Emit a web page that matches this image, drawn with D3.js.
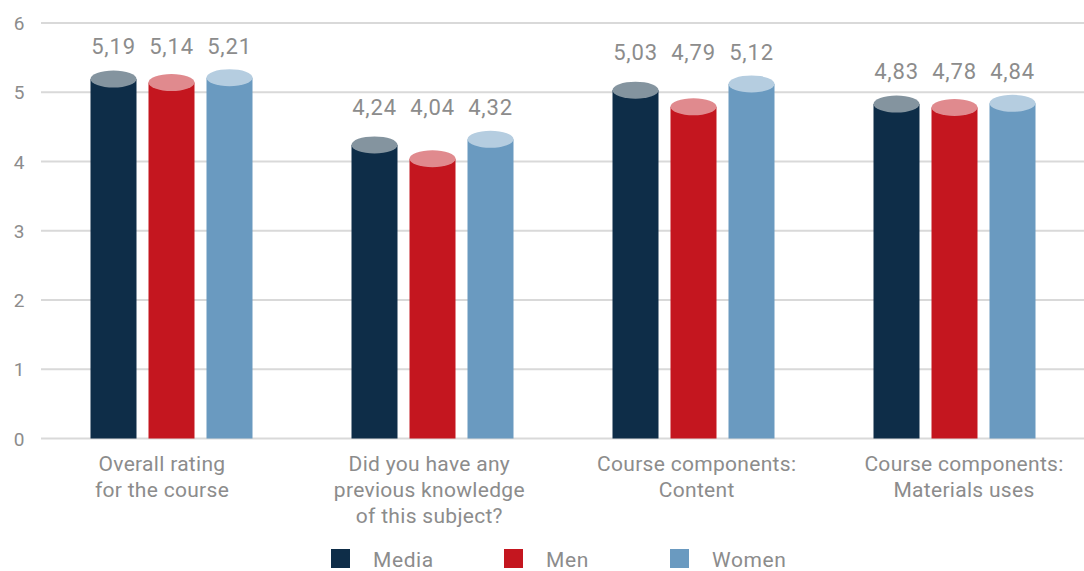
<!DOCTYPE html>
<html><head><meta charset="utf-8">
<script src="https://cdn.jsdelivr.net/npm/d3@7"></script>
<style>body{margin:0;background:#fff}svg{display:block}text{font-family:"Roboto","DejaVu Sans",sans-serif;fill:#8c8c8c}</style>
</head><body>
<svg id="c" width="1084" height="571"></svg>
<script>
const categories = [
  ["Overall rating","for the course"],
  ["Did you have any","previous knowledge","of this subject?"],
  ["Course components:","Content"],
  ["Course components:","Materials uses"]
];
const seriesNames = ["Media","Men","Women"];
const media = [5.19, 4.24, 5.03, 4.83];
const men = [5.14, 4.04, 4.79, 4.78];
const women = [5.21, 4.32, 5.12, 4.84];
const yTicks = [0,1,2,3,4,5,6];

const series = [media, men, women];
const bodyColors = ["#0e2d48","#c4161f","#6a9ac0"];
const topColors = ["#84949f","#e08a8e","#b5cde0"];

const svg = d3.select("#c");
const y = d3.scaleLinear().domain([0,6]).range([438.5,23]);
const x0 = d3.scaleBand().domain(d3.range(categories.length)).range([41,1085]).paddingInner(0).paddingOuter(0);
const x1 = d3.scaleBand().domain(d3.range(3)).range([-81,81]).paddingInner(12/58).paddingOuter(0);
const xLabel = d3.scalePoint().domain(d3.range(categories.length)).range([162,964]);

// gridlines
svg.append("g").selectAll("line").data(yTicks).join("line")
  .attr("x1",41).attr("x2",1084)
  .attr("y1",d=>y(d)).attr("y2",d=>y(d))
  .attr("stroke","#d9d9d9").attr("stroke-width",2);

// y tick labels
const yAxis = d3.axisLeft(y).tickValues(yTicks).tickFormat(d3.format("d")).tickSize(0).tickPadding(0);
const ya = svg.append("g").attr("transform","translate(19,0)").call(yAxis);
ya.select(".domain").remove();
ya.selectAll("text").attr("text-anchor","middle").style("font-size","19px").attr("fill","#8c8c8c").attr("dy","0.35em");

// bars
const groups = svg.append("g").selectAll("g").data(categories).join("g")
  .attr("transform",(d,i)=>`translate(${x0(i)+x0.bandwidth()/2},0)`);

groups.each(function(cat,i){
  const g = d3.select(this);
  const bw = x1.bandwidth();
  series.forEach((s,k)=>{
    const v = s[i];
    const bx = x1(k);
    g.append("rect").attr("x",bx).attr("width",bw)
      .attr("y",y(v)).attr("height",y(0)-y(v)).attr("fill",bodyColors[k]);
    g.append("ellipse").attr("cx",bx+bw/2).attr("cy",y(v))
      .attr("rx",bw/2).attr("ry",8.5).attr("fill",topColors[k]);
  });
  const maxV = d3.max(series, s=>s[i]);
  const ly = y(maxV) - 24;
  series.forEach((s,k)=>{
    g.append("text").attr("x",x1(k)+bw/2).attr("y",ly)
      .attr("text-anchor","middle").style("font-size","22px").style("letter-spacing","0.8px")
      .text(d3.format(".2f")(s[i]).replace(".",","));
  });
});

// category labels
const labels = svg.append("g").selectAll("text").data(categories).join("text")
  .attr("text-anchor","middle").style("font-size","21px").style("letter-spacing","0.3px");
labels.each(function(cat,i){
  const t = d3.select(this);
  cat.forEach((line,j)=>{
    t.append("tspan").attr("x",xLabel(i)).attr("y",471+j*26).text(line);
  });
});

// legend
const legX = [331,504,670];
const leg = svg.append("g").selectAll("g").data(seriesNames).join("g")
  .attr("transform",(d,i)=>`translate(${legX[i]},549)`);
leg.append("rect").attr("width",19).attr("height",19).attr("fill",(d,i)=>bodyColors[i]);
leg.append("text").attr("x",42).attr("y",18).style("font-size","21px").style("letter-spacing","0.6px").text(d=>d);
</script>
</body></html>
